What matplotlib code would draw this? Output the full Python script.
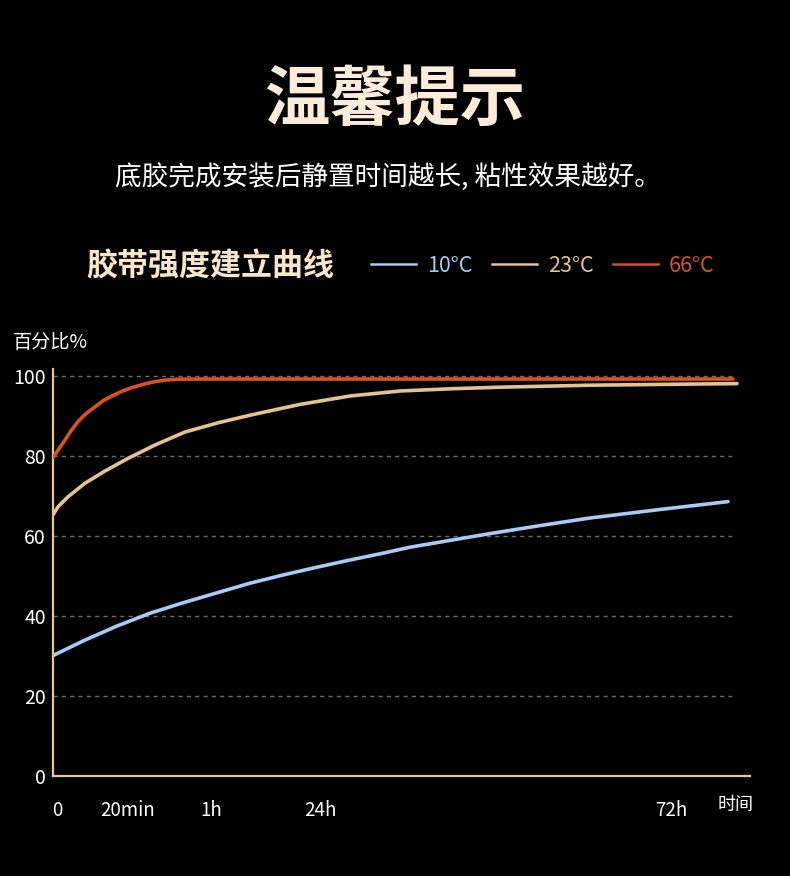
import matplotlib
matplotlib.use("Agg")
import matplotlib.pyplot as plt
from matplotlib.lines import Line2D

plt.rcParams['font.family'] = ['Noto Sans CJK SC', 'DejaVu Sans']

# x runs on the chart's own display scale (ticks are not evenly spaced in time)
tick_pos = [4, 75, 158, 267, 618]
tick_labels = ["0", "20min", "1h", "24h", "72h"]
y_ticks = [0, 20, 40, 60, 80, 100]

# 10°C
blue_x = [0, 30, 64, 97, 130, 164, 197, 230, 264, 297, 330, 357, 437, 487,
          537, 606, 675]
blue_y = [30.1, 33.75, 37.5, 40.7, 43.3, 45.8, 48.2, 50.25, 52.2, 54.0, 55.7,
          57.2, 60.6, 62.6, 64.5, 66.6, 68.6]
# 23°C
tan_x = [0, 1, 5, 15, 32, 52, 75, 102, 132, 165, 197, 247, 297, 347, 397, 447,
         537, 610, 684]
tan_y = [65.3, 65.7, 67.3, 69.8, 73.2, 76.25, 79.4, 82.75, 86.0, 88.3, 90.2,
         92.9, 95.0, 96.25, 96.8, 97.2, 97.7, 97.9, 98.1]
# 66°C
red_x = [0, 6, 12, 18, 25, 33, 42, 50, 59, 69, 79, 90, 102, 113, 125, 150,
         200, 400, 680]
red_y = [79.6, 81.8, 84.0, 86.3, 88.6, 90.6, 92.3, 93.8, 95.0, 96.2, 97.1,
         97.9, 98.6, 99.0, 99.2, 99.25, 99.25, 99.25, 99.25]

series_labels = ["10°C", "23°C", "66°C"]
series_colors = ["#a9caf2", "#e4c291", "#d9531f"]

W, H = 790, 876
fig = plt.figure(figsize=(W / 100, H / 100), dpi=100, facecolor="black")

ax = fig.add_axes([53 / W, 1 - 776 / H, (750 - 53) / W, (776 - 369) / H])
ax.set_facecolor("black")
ax.set_xlim(0, 697)
ax.set_ylim(0, 101.75)

# dashed gridlines, stopping short of the axis end
for yv in y_ticks[1:]:
    ax.plot([0, 679], [yv, yv], color="#746a5e", lw=1, ls=(0, (3, 3)), zorder=1)

for xs, ys, c in zip([blue_x, tan_x, red_x], [blue_y, tan_y, red_y], series_colors):
    ax.plot(xs, ys, color=c, lw=2.6, solid_capstyle="round",
            solid_joinstyle="round", zorder=3)

for side in ["top", "right"]:
    ax.spines[side].set_visible(False)
for side in ["left", "bottom"]:
    ax.spines[side].set_color("#e8c892")
    ax.spines[side].set_linewidth(1.6)

ax.set_yticks(y_ticks)
ax.set_xticks(tick_pos)
ax.set_xticklabels(tick_labels)
ax.tick_params(axis="y", length=0, pad=5, labelsize=14, labelcolor="white")
ax.tick_params(axis="x", length=0, pad=17, labelsize=13.5, labelcolor="white")

fig.text(13 / W, 1 - 343 / H, "百分比%", color="white", fontsize=13.8,
         ha="left", va="center")
fig.text(736 / W, 1 - 805 / H, "时间", color="white", fontsize=13,
         ha="center", va="center")

# headings
fig.text(0.5, 1 - 100 / H, "温馨提示", color="#fcecd9", fontsize=47,
         fontweight="bold", ha="center", va="center")
fig.text(388 / W, 1 - 178 / H, "底胶完成安装后静置时间越长, 粘性效果越好。",
         color="white", fontsize=19.2, ha="center", va="center")
fig.text(86 / W, 1 - 267 / H, "胶带强度建立曲线", color="#f9e5c8",
         fontsize=22.3, fontweight="bold", ha="left", va="center")

handles = [Line2D([], [], color=c, lw=1.8) for c in series_colors]
fig.legend(handles, series_labels, ncol=3, loc="center left",
           bbox_to_anchor=(371 / W, 1 - 266 / H), frameon=False,
           fontsize=15.5, labelcolor=series_colors, handlelength=2.1,
           handletextpad=0.5, columnspacing=0.9, borderpad=0, borderaxespad=0)

fig.savefig("out.png", dpi=100, facecolor="black")
